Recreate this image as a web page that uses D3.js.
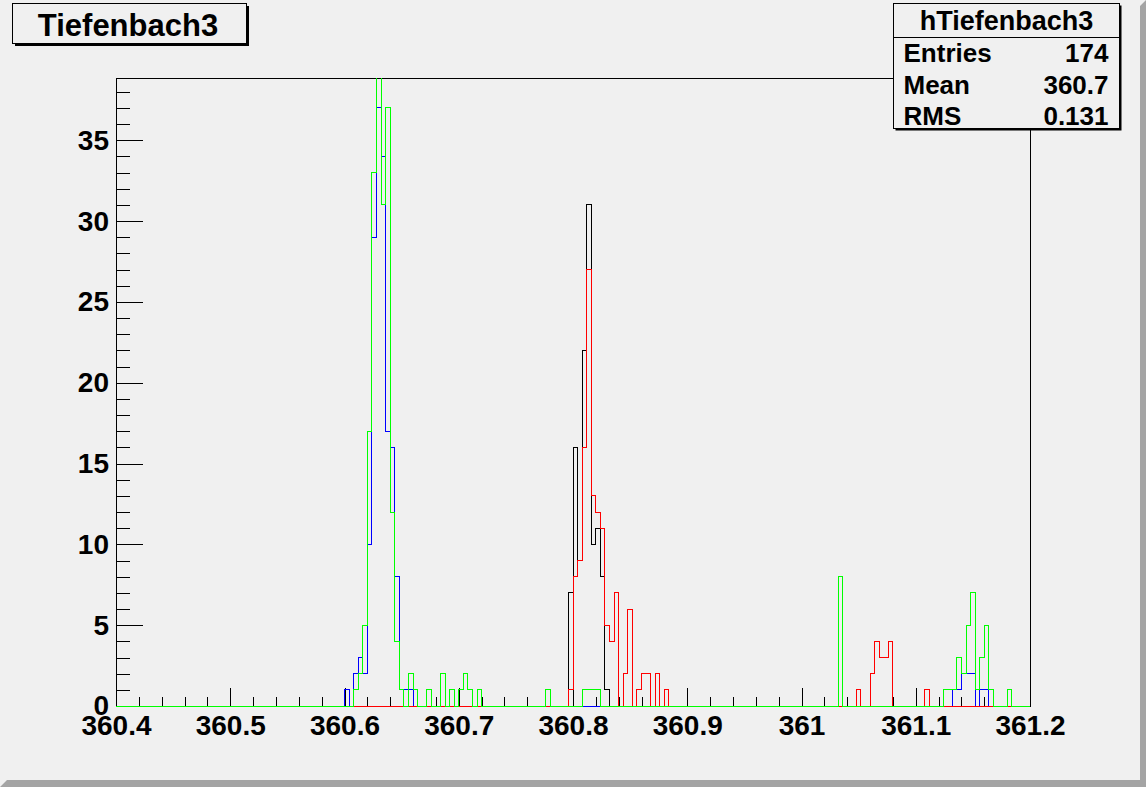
<!DOCTYPE html>
<html>
<head>
<meta charset="utf-8">
<script src="https://cdn.jsdelivr.net/npm/d3@7"></script>
<style>
body { margin: 0; background: #f0f0f0; }
svg { display: block; font-family: 'Liberation Sans', Arial, Helvetica, sans-serif; font-weight: bold; }
</style>
</head>
<body>
<svg width="1146" height="787"></svg>
<script>
// histogram binning: 200 bins between 360.4 and 361.2
const xMin = 360.4
const xMax = 361.2
const nBins = 200
const yMax = 38.85

// lower bin edge / content of every non-empty bin, per histogram
const blackX = [360.796, 360.800, 360.804, 360.808, 360.812, 360.816, 360.820, 360.824, 360.828]
const blackY = [7, 16, 9, 22, 31, 10, 11, 8, 1]

const blueX = [360.600, 360.608, 360.612, 360.616, 360.620, 360.624, 360.628, 360.632, 360.636,
    360.640, 360.644, 360.648, 360.652, 360.656,
    361.132, 361.136, 361.140, 361.144, 361.148, 361.156, 361.160]
const blueY = [1, 2, 3, 2, 10, 29, 37, 34, 17, 16, 8, 1, 1, 1, 1, 1, 2, 2, 2, 1, 1]

const redX = [360.796, 360.800, 360.804, 360.808, 360.812, 360.816, 360.820, 360.824, 360.828,
    360.832, 360.836, 360.844, 360.848, 360.856, 360.860, 360.864, 360.872, 360.880,
    361.048, 361.060, 361.064, 361.068, 361.072, 361.076, 361.108]
const redY = [1, 8, 9, 16, 27, 13, 12, 11, 5, 4, 7, 2, 6, 1, 2, 2, 2, 1, 1, 2, 4, 3, 3, 4, 1]

const greenX = [360.608, 360.612, 360.616, 360.620, 360.624, 360.628, 360.632, 360.636, 360.640,
    360.644, 360.648, 360.656, 360.660, 360.672, 360.684, 360.692, 360.700, 360.704, 360.708,
    360.716, 360.776, 360.808, 360.812, 360.816, 360.820,
    361.032, 361.124, 361.128, 361.132, 361.136, 361.140, 361.144, 361.148, 361.152, 361.156,
    361.160, 361.164, 361.180]
const greenY = [1, 2, 5, 17, 33, 39, 31, 37, 12, 4, 1, 2, 1, 1, 2, 1, 1, 2, 1, 1, 1, 1, 1, 1, 1,
    8, 1, 1, 1, 3, 2, 5, 7, 1, 3, 5, 1, 1]

// axis ticks
const xTickValues = [360.4, 360.5, 360.6, 360.7, 360.8, 360.9, 361.0, 361.1, 361.2]
const xTickLabels = ['360.4', '360.5', '360.6', '360.7', '360.8', '360.9', '361', '361.1', '361.2']
const yTickValues = [0, 5, 10, 15, 20, 25, 30, 35]
const yTickLabels = ['0', '5', '10', '15', '20', '25', '30', '35']

const titleText = 'Tiefenbach3'
const statsName = 'hTiefenbach3'
const statsLabels = ['Entries', 'Mean', 'RMS']
const statsValues = ['174', '360.7', '0.131']

const svg = d3.select('svg')
const width = +svg.attr('width')
const height = +svg.attr('height')

const margin = { left: 116, right: 116, top: 78, bottom: 81 }
const innerWidth = width - margin.left - margin.right
const innerHeight = height - margin.top - margin.bottom
const binWidth = (xMax - xMin) / nBins

// canvas with raised border
svg.append('rect')
    .attr('width', width)
    .attr('height', height)
    .attr('fill', '#f0f0f0')

svg.append('polygon')
    .attr('points', `${width},0 ${width},${height} 0,${height} 7,${height - 7} ${width - 6},${height - 7} ${width - 6},6`)
    .attr('fill', '#a4a4a4')

const xScale = d3.scaleLinear()
    .domain([xMin, xMax])
    .range([0, innerWidth])

const yScale = d3.scaleLinear()
    .domain([0, yMax])
    .range([innerHeight, 0])

const g = svg.append('g')
    .attr('transform', `translate(${margin.left},${margin.top})`)

g.append('rect')
    .attr('width', innerWidth)
    .attr('height', innerHeight)
    .attr('fill', '#f0f0f0')
    .attr('stroke', 'black')
    .attr('shape-rendering', 'crispEdges')

// axes
const styleAxis = sel => {
    sel.attr('font-family', null).attr('font-size', null)
    sel.selectAll('line, path').attr('stroke', 'black').attr('shape-rendering', 'crispEdges')
    sel.selectAll('text').attr('font-size', 28).attr('font-weight', 'bold').attr('fill', 'black')
}

// minor ticks carry no labels
const dropLabels = sel => sel.selectAll('text').remove()

g.append('g')
    .call(d3.axisLeft(yScale).tickValues(d3.range(0, 39)).tickSize(-14).tickSizeOuter(0))
    .call(styleAxis)
    .call(dropLabels)

g.append('g')
    .call(d3.axisLeft(yScale).tickValues(yTickValues).tickSize(-27).tickSizeOuter(0).tickPadding(7)
        .tickFormat((d, i) => yTickLabels[i]))
    .call(styleAxis)

g.append('g')
    .attr('transform', `translate(0,${innerHeight})`)
    .call(d3.axisBottom(xScale).tickValues(d3.range(0, 41).map(i => xMin + i * 0.02)).tickSize(-9).tickSizeOuter(0))
    .call(styleAxis)
    .call(dropLabels)

g.append('g')
    .attr('transform', `translate(0,${innerHeight})`)
    .call(d3.axisBottom(xScale).tickValues(xTickValues).tickSize(-18).tickSizeOuter(0).tickPadding(9)
        .tickFormat((d, i) => xTickLabels[i]))
    .call(styleAxis)

// histograms
svg.append('clipPath')
    .attr('id', 'frame-clip')
    .append('rect')
    .attr('y', 0)
    .attr('width', innerWidth + 1)
    .attr('height', innerHeight + 1)

const toCounts = (xs, ys) => {
    const counts = new Array(nBins).fill(0)
    xs.forEach((x, i) => {
        counts[Math.round((x - xMin) / binWidth)] = ys[i]
    })
    return counts
}

const stepLine = d3.line()
    .x(d => xScale(d[0]))
    .y(d => yScale(d[1]))
    .curve(d3.curveStepAfter)

const histos = [
    { xs: blackX, ys: blackY, color: '#000000' },
    { xs: blueX, ys: blueY, color: '#0000ff' },
    { xs: redX, ys: redY, color: '#ff0000' },
    { xs: greenX, ys: greenY, color: '#00ff00' }
]

const hg = g.append('g').attr('clip-path', 'url(#frame-clip)')

histos.forEach(h => {
    const counts = toCounts(h.xs, h.ys)
    const pts = [[xMin, 0]]
    counts.forEach((c, i) => pts.push([xMin + i * binWidth, c]))
    pts.push([xMax, counts[nBins - 1]])
    pts.push([xMax, 0])
    hg.append('path')
        .attr('d', stepLine(pts))
        .attr('fill', 'none')
        .attr('stroke', h.color)
        .attr('stroke-width', 1)
        .attr('shape-rendering', 'crispEdges')
})

// title pave
svg.append('rect')
    .attr('x', 15).attr('y', 6).attr('width', 234).attr('height', 40)
    .attr('fill', '#000')
svg.append('rect')
    .attr('x', 12.5).attr('y', 3.5).attr('width', 234).attr('height', 40)
    .attr('fill', '#f0f0f0')
    .attr('stroke', 'black')
svg.append('text')
    .attr('x', 128).attr('y', 36)
    .attr('text-anchor', 'middle')
    .attr('font-size', 31)
    .text(titleText)

// stats box
const sx = 893.5
const sw = 226
svg.append('rect')
    .attr('x', sx + 2).attr('y', 5.5).attr('width', sw).attr('height', 125)
    .attr('fill', '#000')
svg.append('rect')
    .attr('x', sx).attr('y', 3.5).attr('width', sw).attr('height', 125)
    .attr('fill', '#f0f0f0')
    .attr('stroke', 'black')
svg.append('line')
    .attr('x1', sx).attr('x2', sx + sw)
    .attr('y1', 37.5).attr('y2', 37.5)
    .attr('stroke', 'black')
svg.append('text')
    .attr('x', sx + sw / 2).attr('y', 30)
    .attr('text-anchor', 'middle')
    .attr('font-size', 27)
    .text(statsName)

statsLabels.forEach((label, i) => {
    const y = 62 + i * 31.5
    svg.append('text')
        .attr('x', sx + 10).attr('y', y)
        .attr('font-size', 26)
        .text(label)
    svg.append('text')
        .attr('x', sx + sw - 11).attr('y', y)
        .attr('text-anchor', 'end')
        .attr('font-size', 26)
        .text(statsValues[i])
})
</script>
</body>
</html>
